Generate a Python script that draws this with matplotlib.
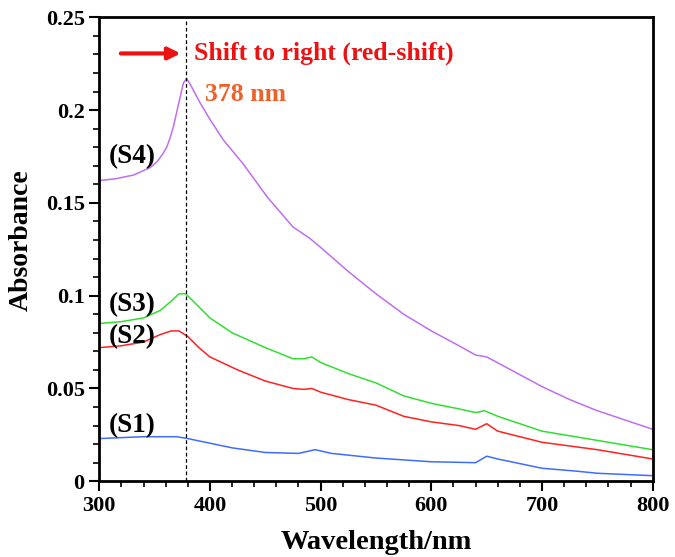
import matplotlib.pyplot as plt
from matplotlib.ticker import MultipleLocator

# spectra
wl_s4 = [300, 315, 331, 346, 352, 357, 361, 364, 367, 371, 376, 379, 383, 391, 400, 412, 430,
         452, 475, 490, 500, 525, 550, 575, 600, 625, 640, 650, 675, 700, 725, 750, 775, 800]
abs_s4 = [0.162, 0.163, 0.165, 0.169, 0.172, 0.176, 0.180, 0.185, 0.191, 0.2015, 0.2145, 0.217,
          0.213, 0.204, 0.195, 0.184, 0.171, 0.153, 0.137, 0.131, 0.126, 0.113, 0.101, 0.090,
          0.081, 0.073, 0.068, 0.067, 0.059, 0.051, 0.044, 0.038, 0.033, 0.028]

wl_s3 = [300, 320, 340, 355, 365, 372, 378, 385, 400, 420, 450, 475, 485, 492, 500, 525, 550,
         575, 600, 625, 640, 648, 660, 700, 750, 800]
abs_s3 = [0.085, 0.086, 0.088, 0.092, 0.097, 0.101, 0.101, 0.097, 0.088, 0.080, 0.072, 0.066,
          0.066, 0.067, 0.064, 0.058, 0.053, 0.046, 0.042, 0.039, 0.037, 0.038, 0.035, 0.027,
          0.022, 0.017]

wl_s2 = [300, 320, 340, 355, 365, 372, 380, 390, 400, 425, 450, 475, 485, 492, 500, 525, 550,
         575, 600, 625, 640, 650, 660, 700, 750, 800]
abs_s2 = [0.072, 0.073, 0.075, 0.079, 0.081, 0.081, 0.078, 0.072, 0.067, 0.060, 0.054, 0.050,
          0.0495, 0.050, 0.048, 0.044, 0.041, 0.035, 0.032, 0.030, 0.028, 0.031, 0.027, 0.021,
          0.017, 0.012]

wl_s1 = [300, 340, 370, 380, 400, 420, 450, 480, 495, 510, 550, 600, 640, 650, 660, 700, 730,
         750, 800]
abs_s1 = [0.023, 0.024, 0.024, 0.023, 0.0205, 0.018, 0.0155, 0.015, 0.017, 0.015, 0.0125,
          0.0105, 0.010, 0.0135, 0.012, 0.007, 0.0055, 0.0043, 0.003]

peak_nm = 378

plt.rcParams['font.family'] = ['Liberation Serif', 'DejaVu Serif']
plt.rcParams['font.weight'] = 'bold'

fig = plt.figure(figsize=(6.75, 5.57), dpi=100)
ax = fig.add_axes([0.147, 0.136, 0.82, 0.833])

ax.plot(wl_s1, abs_s1, color='#3f6cff', lw=1.1)
ax.plot(wl_s2, abs_s2, color='#ff2222', lw=1.1)
ax.plot(wl_s3, abs_s3, color='#33dd33', lw=1.1)
ax.plot(wl_s4, abs_s4, color='#bf6ef2', lw=1.1)
ax.axvline(peak_nm, color='black', ls=(0, (3, 2)), lw=0.9)

for lbl, yv in [('(S4)', 0.175), ('(S3)', 0.095), ('(S2)', 0.078), ('(S1)', 0.030)]:
    ax.text(330, yv, lbl, fontsize=19.5, fontweight='bold', ha='center', va='center')

ax.annotate('', xy=(376, 0.2305), xytext=(317, 0.2305),
            arrowprops=dict(arrowstyle='-|>', color='#ee1111', lw=3, mutation_scale=18))
ax.text(386, 0.2305, 'Shift to right (red-shift)', color='#ee1111', fontsize=18.5,
        fontweight='bold', va='center')
ax.text(396, 0.2085, '378 nm', color='#f0602a', fontsize=18.5, fontweight='bold', va='center')

ax.set_xlim(300, 800)
ax.set_ylim(0, 0.25)
ax.xaxis.set_major_locator(MultipleLocator(100))
ax.xaxis.set_minor_locator(MultipleLocator(20))
ax.yaxis.set_minor_locator(MultipleLocator(0.01))
ax.set_yticks([0, 0.05, 0.1, 0.15, 0.2, 0.25])
ax.set_yticklabels(['0', '0.05', '0.1', '0.15', '0.2', '0.25'])
ax.tick_params(which='major', direction='out', length=7, width=1.5, labelsize=16)
ax.tick_params(which='minor', direction='out', length=4, width=1.2)
for s in ax.spines.values():
    s.set_linewidth(2)

ax.set_xlabel('Wavelength/nm', fontsize=20.5, fontweight='bold', labelpad=10)
ax.set_ylabel('Absorbance', fontsize=20, fontweight='bold')
ax.yaxis.set_label_coords(-0.118, 0.52)

fig.savefig('out.png', dpi=100)
